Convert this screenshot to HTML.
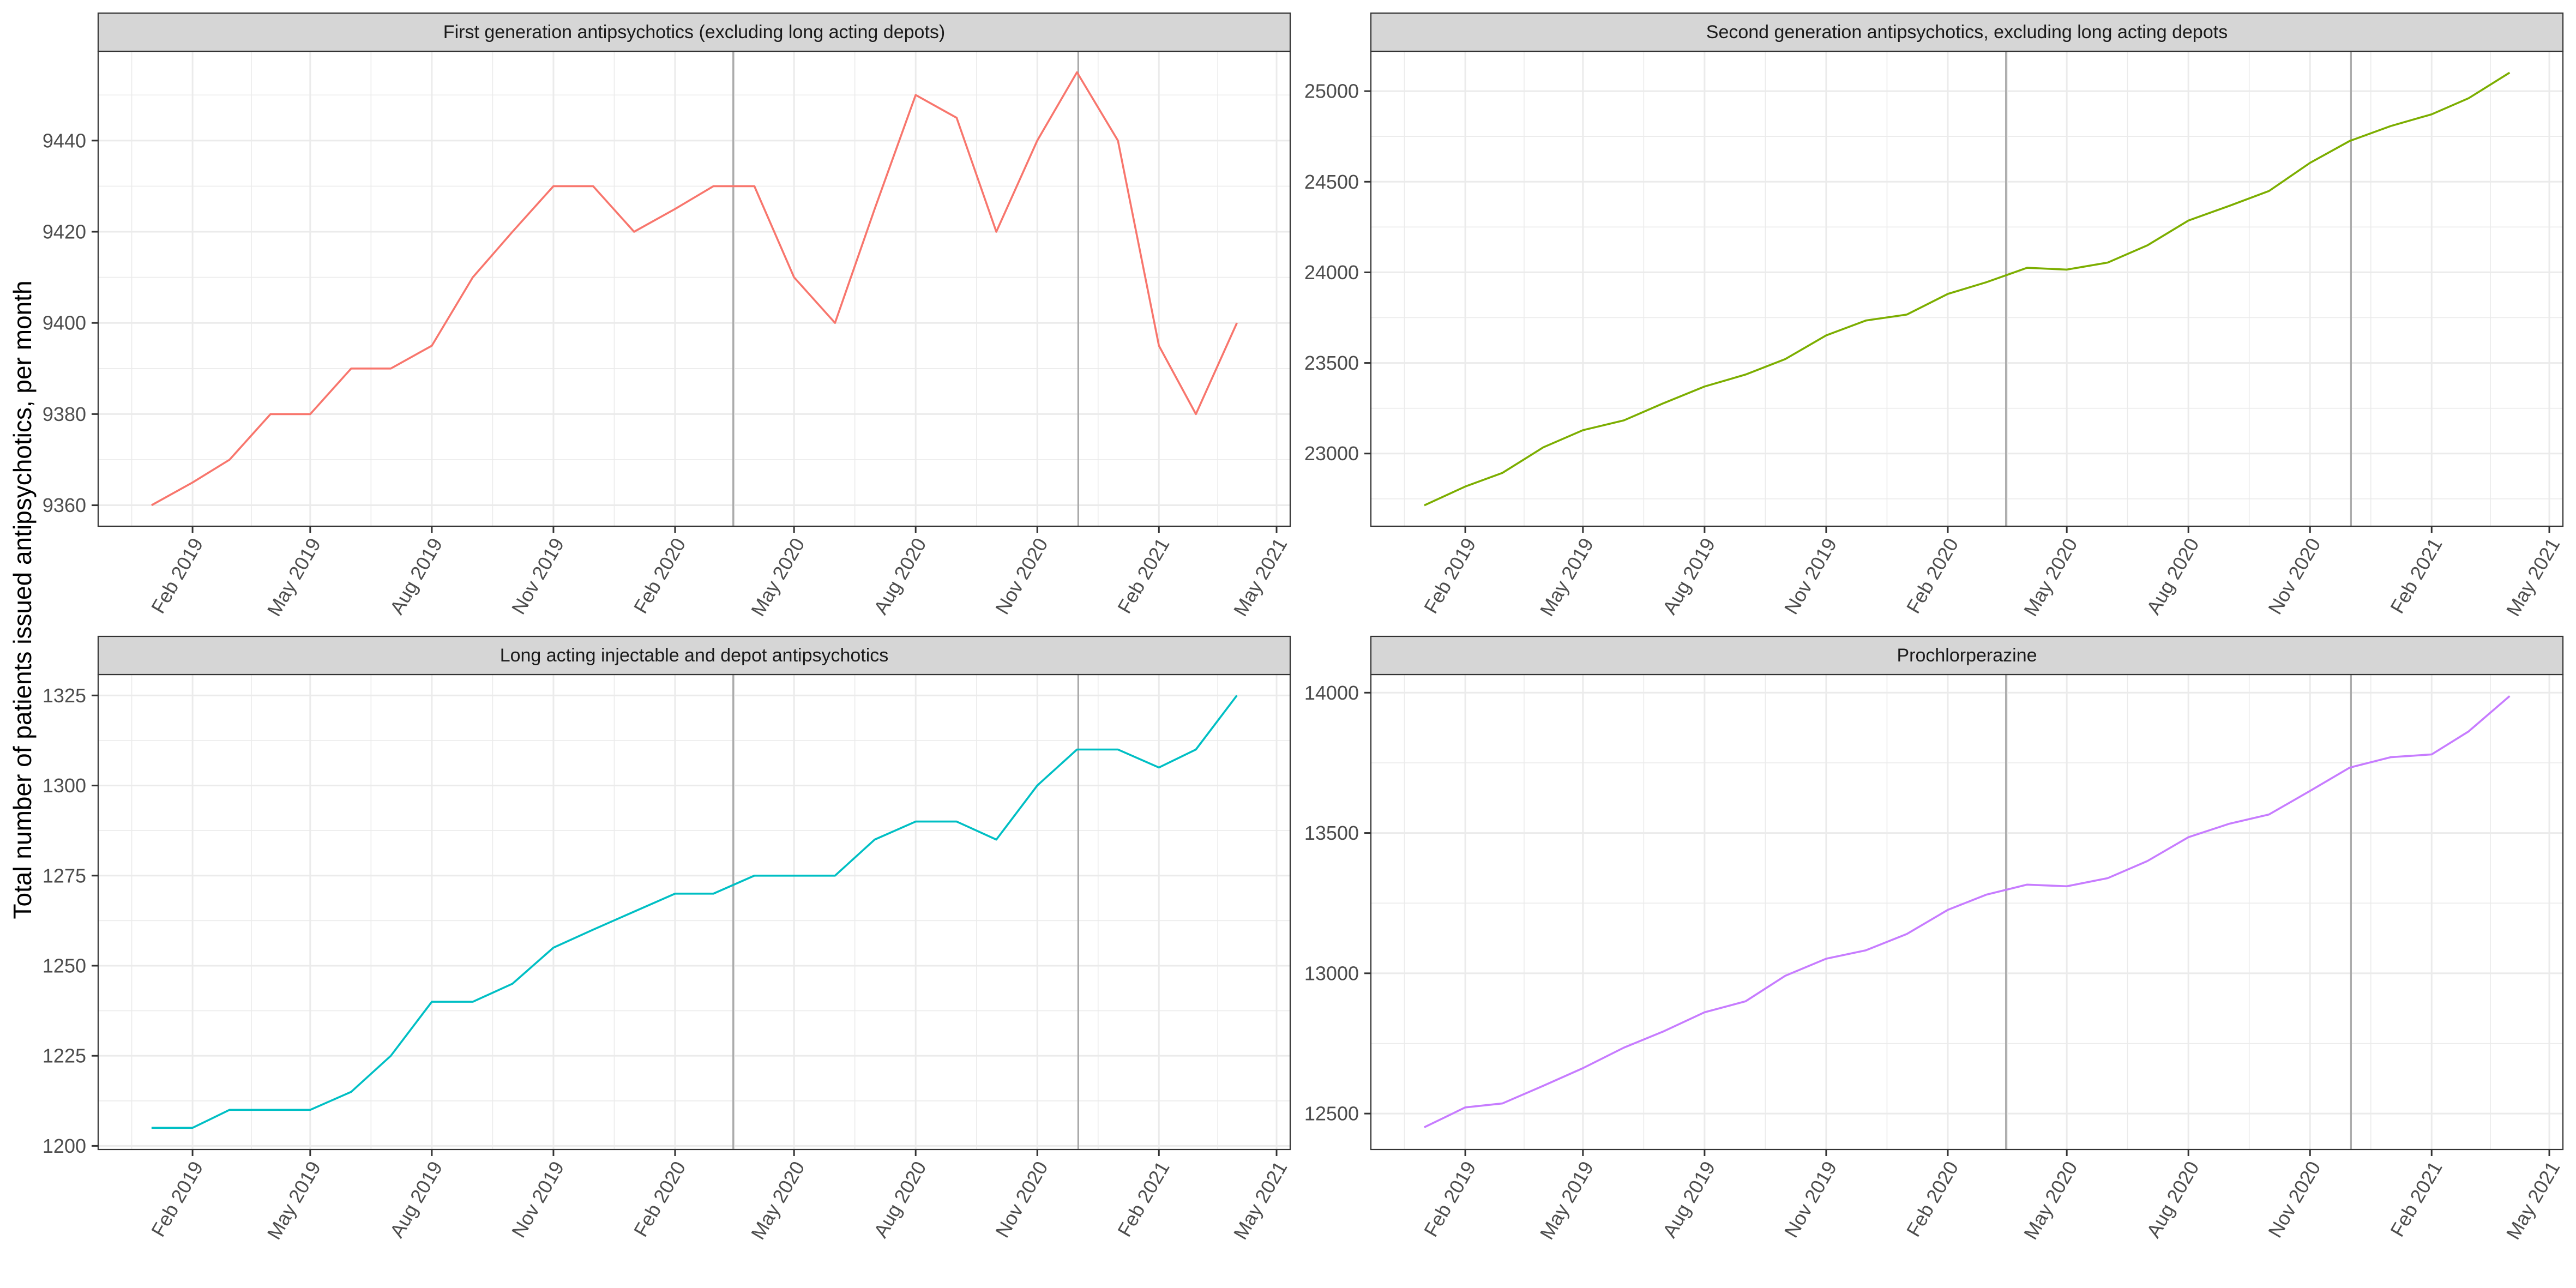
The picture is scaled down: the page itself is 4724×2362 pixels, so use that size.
<!DOCTYPE html>
<html>
<head>
<meta charset="utf-8">
<style>
  html,body{margin:0;padding:0;background:#fff;}
  svg{display:block;}
  text{font-family:"Liberation Sans",Arial,sans-serif;}
</style>
</head>
<body>
<svg id="chart" xmlns="http://www.w3.org/2000/svg" width="4724" height="2362" viewBox="0 0 4724 2362">
  <rect x="0" y="0" width="4724" height="2362" fill="#ffffff"/>
  <text transform="translate(57,1100) rotate(-90)" text-anchor="middle" font-size="46" fill="#000">Total number of patients issued antipsychotics, per month</text>
</svg>
<script>
const months = ["2019-01","2019-02","2019-03","2019-04","2019-05","2019-06","2019-07","2019-08","2019-09","2019-10","2019-11","2019-12",
  "2020-01","2020-02","2020-03","2020-04","2020-05","2020-06","2020-07","2020-08","2020-09","2020-10","2020-11","2020-12",
  "2021-01","2021-02","2021-03","2021-04"];
const firstGenValues = [9360,9365,9370,9380,9380,9390,9390,9395,9410,9420,9430,9430,9420,9425,9430,9430,9410,9400,9425,9450,9445,9420,9440,9455,9440,9395,9380,9400];
const secondGenValues = [22714,22818,22893,23034,23129,23183,23278,23370,23436,23521,23652,23734,23767,23881,23945,24025,24015,24054,24149,24286,24367,24449,24604,24725,24807,24872,24961,25102];
const depotValues = [1205,1205,1210,1210,1210,1215,1225,1240,1240,1245,1255,1260,1265,1270,1270,1275,1275,1275,1285,1290,1290,1285,1300,1310,1310,1305,1310,1325];
const prochlorValues = [12451,12522,12536,12599,12662,12735,12793,12861,12900,12991,13052,13082,13140,13226,13280,13316,13310,13339,13400,13485,13533,13566,13650,13733,13770,13780,13862,13988];
const panelTitles = ["First generation antipsychotics (excluding long acting depots)","Second generation antipsychotics, excluding long acting depots","Long acting injectable and depot antipsychotics","Prochlorperazine"];
const xTickDates = ["2019-02-01","2019-05-01","2019-08-01","2019-11-01","2020-02-01","2020-05-01","2020-08-01","2020-11-01","2021-02-01","2021-05-01"];
const xTickLabels = ["Feb 2019","May 2019","Aug 2019","Nov 2019","Feb 2020","May 2020","Aug 2020","Nov 2020","Feb 2021","May 2021"];
const eventDates = ["2020-03-16","2020-12-02"];
const yTicks1 = [9360,9380,9400,9420,9440];
const yTicks2 = [23000,23500,24000,24500,25000];
const yTicks3 = [1200,1225,1250,1275,1300,1325];
const yTicks4 = [12500,13000,13500,14000];

const NS="http://www.w3.org/2000/svg";
const svg=document.getElementById('chart');
function mk(tag,attrs,parent){const e=document.createElementNS(NS,tag);for(const k in attrs)e.setAttribute(k,attrs[k]);(parent||svg).appendChild(e);return e;}
function day(s){return Date.UTC(+s.slice(0,4),+s.slice(5,7)-1,s.length>7?+s.slice(8,10):1)/86400000;}
const D0=day("2019-02-01");
const xDomain=[D0-71.4, D0+830.3];

const panels=[
  {x0:180,y0:94,vals:firstGenValues,ticks:yTicks1,dom:[9355.4,9459.6],minorStep:10,color:"#F8766D",name:"first-generation"},
  {x0:2514,y0:94,vals:secondGenValues,ticks:yTicks2,dom:[22599,25220],minorStep:250,color:"#7CAE00",name:"second-generation"},
  {x0:180,y0:1237,vals:depotValues,ticks:yTicks3,dom:[1199.0,1330.8],minorStep:12.5,color:"#00BFC4",name:"long-acting-depot"},
  {x0:2514,y0:1237,vals:prochlorValues,ticks:yTicks4,dom:[12372,14064.7],minorStep:250,color:"#C77CFF",name:"prochlorperazine"}
];
const W=2186,H=871;

panels.forEach((p,pi)=>{
  const g=mk('g',{});
  
  
  const xs=d=>p.x0+(d-xDomain[0])/(xDomain[1]-xDomain[0])*W;
  const ys=v=>p.y0+H-(v-p.dom[0])/(p.dom[1]-p.dom[0])*H;
  mk('rect',{x:p.x0,y:p.y0,width:W,height:H,fill:"#fff"},g);
  const clipTop=p.y0, clipBot=p.y0+H;
  let start=Math.ceil(p.dom[0]/p.minorStep)*p.minorStep;
  for(let v=start;v<=p.dom[1];v+=p.minorStep){
    const l=mk('line',{x1:p.x0,x2:p.x0+W,y1:ys(v),y2:ys(v),stroke:"#EBEBEB","stroke-width":1.6},g);
    
    
  }
  const majors=xTickDates.map(day);
  const allMaj=[day("2018-11-01")].concat(majors).concat([day("2021-08-01")]);
  for(let i=0;i<allMaj.length-1;i++){
    const m=(allMaj[i]+allMaj[i+1])/2;
    if(m<xDomain[0]||m>xDomain[1])continue;
    const l=mk('line',{x1:xs(m),x2:xs(m),y1:clipTop,y2:clipBot,stroke:"#EBEBEB","stroke-width":1.6},g);
    
    
  }
  p.ticks.forEach(v=>{
    const l=mk('line',{x1:p.x0,x2:p.x0+W,y1:ys(v),y2:ys(v),stroke:"#EBEBEB","stroke-width":3},g);
    
    
  });
  majors.forEach(d=>{
    const l=mk('line',{x1:xs(d),x2:xs(d),y1:clipTop,y2:clipBot,stroke:"#EBEBEB","stroke-width":3},g);
    
    
  });
  eventDates.forEach(s=>{
    const l=mk('line',{x1:xs(day(s)),x2:xs(day(s)),y1:clipTop,y2:clipBot,stroke:"#ABABAB","stroke-width":3.2},g);
    
    
  });
  const pts=months.map((m,i)=>xs(day(m)).toFixed(1)+","+ys(p.vals[i]).toFixed(1)).join(" ");
  const pl=mk('polyline',{points:pts,fill:"none",stroke:p.color,"stroke-width":3.6,"stroke-linejoin":"round"},g);
  
  
  const br=mk('rect',{x:p.x0,y:p.y0,width:W,height:H,fill:"none",stroke:"#333","stroke-width":2.2},g);
  
  
  const st=mk('rect',{x:p.x0,y:p.y0-70,width:W,height:70,fill:"#D6D6D6",stroke:"#333","stroke-width":2.2},g);
  
  
  const stt=mk('text',{x:p.x0+W/2,y:p.y0-35,"text-anchor":"middle","dominant-baseline":"central","font-size":34,fill:"#1A1A1A"},g);
  stt.textContent=panelTitles[pi];
  
  
  p.ticks.forEach(v=>{
    const t=mk('line',{x1:p.x0-12,x2:p.x0,y1:ys(v),y2:ys(v),stroke:"#333","stroke-width":3},g);
    
    
    const tl=mk('text',{x:p.x0-22,y:ys(v),"text-anchor":"end","dominant-baseline":"central","font-size":36,fill:"#4D4D4D"},g);
    tl.textContent=String(v);
    
    
  });
  majors.forEach((d,i)=>{
    const x=xs(d), yb=p.y0+H;
    const t=mk('line',{x1:x,x2:x,y1:yb,y2:yb+12,stroke:"#333","stroke-width":3},g);
    
    
    const tl=mk('text',{x:0,y:0,"text-anchor":"end","font-size":36,fill:"#4D4D4D",dy:"0.72em",transform:`translate(${x-2},${yb+18}) rotate(-60)`},g);
    tl.textContent=xTickLabels[i];
    
    
  });
});
</script>
</body>
</html>
